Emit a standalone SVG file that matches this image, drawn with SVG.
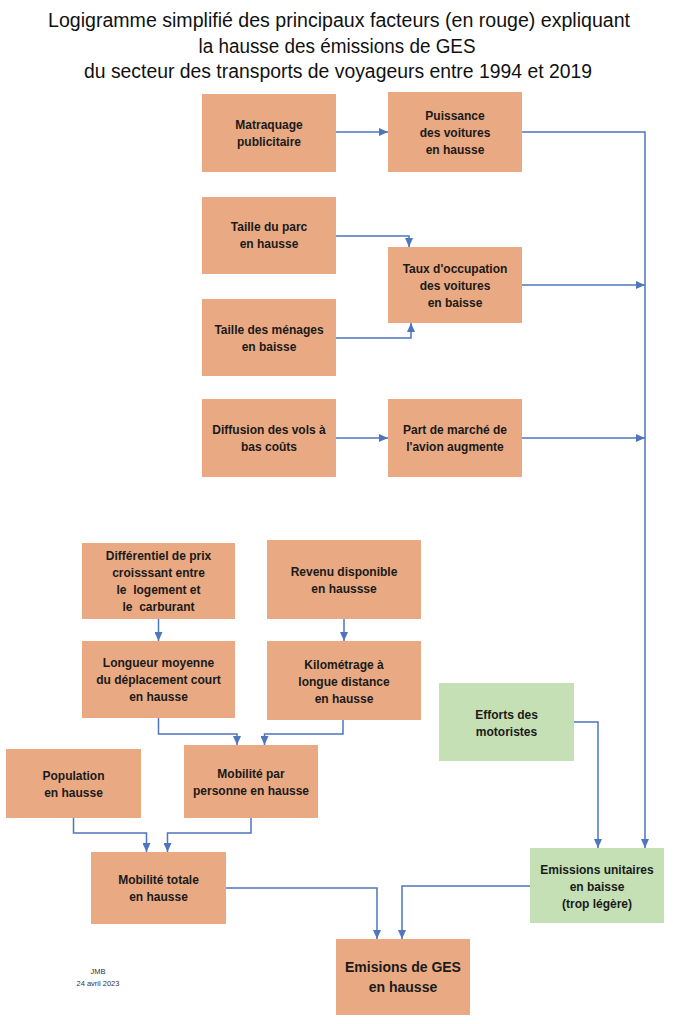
<svg xmlns="http://www.w3.org/2000/svg" width="673" height="1024" viewBox="0 0 673 1024">
<style>
.o{fill:#E9A982}
.g{fill:#C5E0B4}
.t{font-family:"Liberation Sans",Arial,sans-serif;font-weight:bold;font-size:12px;fill:#1a1a1a;text-anchor:middle}
.big{font-size:14px}
.title{font-family:"Liberation Sans",Arial,sans-serif;font-size:20px;fill:#111;text-anchor:middle}
.small{font-family:"Liberation Sans",Arial,sans-serif;font-size:7.5px;fill:#333;text-anchor:middle}
.c{fill:none;stroke:#4F76BD;stroke-width:1.5;marker-end:url(#ah)}
.pre{white-space:pre}
</style>
<defs>
<marker id="ah" markerUnits="userSpaceOnUse" markerWidth="9" markerHeight="8" refX="9" refY="4" orient="auto">
<path d="M0,0 L9,4 L0,8 z" fill="#4F76BD"/>
</marker>
</defs>
<rect width="673" height="1024" fill="#fff"/>
<g id="title">
<text class="title" x="339" y="27" textLength="582" lengthAdjust="spacingAndGlyphs">Logigramme simplifié des principaux facteurs (en rouge) expliquant</text>
<text class="title" x="337" y="53" textLength="277" lengthAdjust="spacingAndGlyphs">la hausse des émissions de GES</text>
<text class="title" x="338" y="78" textLength="508" lengthAdjust="spacingAndGlyphs">du secteur des transports de voyageurs entre 1994 et 2019</text>
</g>
<g id="connectors">
<path class="c" d="M336,132 H388"/>
<path class="c" d="M522,132 H645 V848"/>
<path class="c" d="M522,285 H645"/>
<path class="c" d="M522,438 H645"/>
<path class="c" d="M336,236 H409 V247"/>
<path class="c" d="M336,338 H411 V323"/>
<path class="c" d="M336,438 H388"/>
<path class="c" d="M158.5,619 V641"/>
<path class="c" d="M344,619 V641"/>
<path class="c" d="M158.5,718 V734 H237 V745"/>
<path class="c" d="M343,720 V734 H264.5 V745"/>
<path class="c" d="M73.5,818 V833 H146.5 V852"/>
<path class="c" d="M251,818 V833 H167.5 V852"/>
<path class="c" d="M226,888 H377 V939"/>
<path class="c" d="M530,886 H402 V939"/>
<path class="c" d="M574,722 H598 V848"/>
</g>
<g id="matraquage"><rect class="o" x="202" y="94" width="134" height="78"/>
<text class="t" x="269" y="129">Matraquage</text><text class="t" x="269" y="146">publicitaire</text></g>
<g id="puissance"><rect class="o" x="388" y="92" width="134" height="80"/>
<text class="t" x="455" y="119.5">Puissance</text><text class="t" x="455" y="136.5">des voitures</text><text class="t" x="455" y="153.5">en hausse</text></g>
<g id="taille-parc"><rect class="o" x="202" y="197" width="134" height="77"/>
<text class="t" x="269" y="231">Taille du parc</text><text class="t" x="269" y="248">en hausse</text></g>
<g id="taux-occupation"><rect class="o" x="388" y="247" width="134" height="76"/>
<text class="t" x="455" y="272.5">Taux d'occupation</text><text class="t" x="455" y="289.5">des voitures</text><text class="t" x="455" y="306.5">en baisse</text></g>
<g id="taille-menages"><rect class="o" x="202" y="299" width="134" height="77"/>
<text class="t" x="269" y="333.5">Taille des ménages</text><text class="t" x="269" y="350.5">en baisse</text></g>
<g id="diffusion-vols"><rect class="o" x="202" y="399" width="134" height="78"/>
<text class="t" x="269" y="434">Diffusion des vols à</text><text class="t" x="269" y="451">bas coûts</text></g>
<g id="part-avion"><rect class="o" x="388" y="399" width="134" height="78"/>
<text class="t" x="455" y="434">Part de marché de</text><text class="t" x="455" y="451">l'avion augmente</text></g>
<g id="differentiel"><rect class="o" x="82" y="543" width="153" height="76"/>
<text class="t" x="158.5" y="559.5">Différentiel de prix</text><text class="t" x="158.5" y="576.5">croisssant entre</text><text class="t pre" x="158.5" y="593.5" xml:space="preserve">le  logement et</text><text class="t pre" x="158.5" y="610.5" xml:space="preserve">le  carburant</text></g>
<g id="revenu"><rect class="o" x="267" y="540" width="154" height="79"/>
<text class="t" x="344" y="576">Revenu disponible</text><text class="t" x="344" y="593">en haussse</text></g>
<g id="longueur"><rect class="o" x="82" y="641" width="153" height="77"/>
<text class="t" x="158.5" y="667">Longueur moyenne</text><text class="t" x="158.5" y="684">du déplacement court</text><text class="t" x="158.5" y="701">en hausse</text></g>
<g id="kilometrage"><rect class="o" x="267" y="641" width="154" height="79"/>
<text class="t" x="344" y="668.5">Kilométrage à</text><text class="t" x="344" y="685.5">longue distance</text><text class="t" x="344" y="702.5">en hausse</text></g>
<g id="efforts"><rect class="g" x="439" y="683" width="135" height="78"/>
<text class="t" x="506.5" y="719">Efforts des</text><text class="t" x="506.5" y="736">motoristes</text></g>
<g id="population"><rect class="o" x="6" y="749" width="135" height="69"/>
<text class="t" x="73.5" y="779.5">Population</text><text class="t" x="73.5" y="796.5">en hausse</text></g>
<g id="mobilite-personne"><rect class="o" x="184" y="745" width="134" height="73"/>
<text class="t" x="251" y="777.5">Mobilité par</text><text class="t" x="251" y="794.5">personne en hausse</text></g>
<g id="mobilite-totale"><rect class="o" x="91" y="852" width="135" height="72"/>
<text class="t" x="158.5" y="884">Mobilité totale</text><text class="t" x="158.5" y="901">en hausse</text></g>
<g id="emissions-unitaires"><rect class="g" x="530" y="848" width="134" height="75"/>
<text class="t" x="597" y="873.5">Emissions unitaires</text><text class="t" x="597" y="890.5">en baisse</text><text class="t" x="597" y="907.5">(trop légère)</text></g>
<g id="emissions-ges"><rect class="o" x="336" y="939" width="134" height="76"/>
<text class="t big" x="403" y="972">Emisions de GES</text><text class="t big" x="403" y="991.5">en hausse</text></g>
<g id="signature">
<text class="small" x="98" y="974">JMB</text>
<text class="small" x="98" y="986">24 avril 2023</text>
</g>
</svg>
